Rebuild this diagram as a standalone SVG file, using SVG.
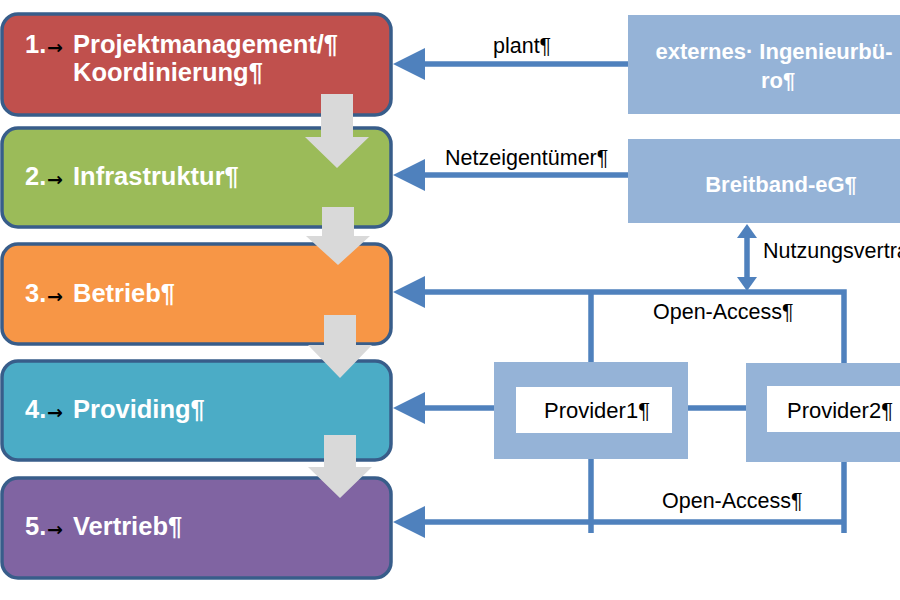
<svg xmlns="http://www.w3.org/2000/svg" width="900" height="600" viewBox="0 0 900 600">
<defs>
<style>
.step{stroke:#385d8a;stroke-width:3.5}
.lt{font-family:"Liberation Sans",Arial,sans-serif;font-weight:bold;font-size:25.5px;fill:#fff}
.tab{font-family:"DejaVu Sans",sans-serif;font-size:19px;fill:#000;font-weight:bold}
.rt{font-family:"Liberation Sans",Arial,sans-serif;font-weight:bold;font-size:22px;fill:#fff}
.lbl{font-family:"Liberation Sans",Arial,sans-serif;font-size:21.5px;fill:#000}
.pl{font-family:"Liberation Sans",Arial,sans-serif;font-size:22px;fill:#000}
.ln{stroke:#4f81bd;stroke-width:5.5;fill:none}
.hd{fill:#4f81bd}
.ext{fill:#95b3d7}
.gr{fill:#d9d9d9}
</style>
</defs>
<rect width="900" height="600" fill="#fff"/>
<g id="step1"><rect class="step" x="2" y="14" width="389" height="101" rx="16" fill="#c0504d"/>
<text class="lt" x="25" y="53">1.</text><text class="tab" x="47" y="54">→</text><text class="lt" x="73" y="53">Projektmanagement/¶</text><text class="lt" x="73" y="81">Koordinierung¶</text></g>
<g id="step2"><rect class="step" x="2" y="128" width="389" height="99" rx="16" fill="#9bbb59"/>
<text class="lt" x="25" y="185">2.</text><text class="tab" x="47" y="186">→</text><text class="lt" x="73" y="185">Infrastruktur¶</text></g>
<g id="step3"><rect class="step" x="2" y="244" width="389" height="100" rx="16" fill="#f79646"/>
<text class="lt" x="25" y="302">3.</text><text class="tab" x="47" y="303">→</text><text class="lt" x="73" y="302">Betrieb¶</text></g>
<g id="step4"><rect class="step" x="2" y="361" width="389" height="99" rx="16" fill="#4bacc6"/>
<text class="lt" x="25" y="418">4.</text><text class="tab" x="47" y="419">→</text><text class="lt" x="73" y="418">Providing¶</text></g>
<g id="step5"><rect class="step" x="2" y="478" width="389" height="100" rx="16" fill="#8064a2"/>
<text class="lt" x="25" y="535">5.</text><text class="tab" x="47" y="536">→</text><text class="lt" x="73" y="535">Vertrieb¶</text></g>
<g id="flow">
<path class="gr" d="M321,94 H353 V137 H369 L337,168 L305,137 H321 Z"/>
<path class="gr" d="M322,207 H354 V236 H370 L338,265 L306,236 H322 Z"/>
<path class="gr" d="M324,315 H356 V345 H372 L340,378 L308,345 H324 Z"/>
<path class="gr" d="M324,435 H356 V467 H372 L340,498 L308,467 H324 Z"/>
</g>
<g id="ingenieurbuero"><rect class="ext" x="628" y="15" width="294" height="99"/>
<text class="rt" x="774" y="59" text-anchor="middle">externes· Ingenieurbü-</text><text class="rt" x="778" y="88" text-anchor="middle">ro¶</text></g>
<g id="breitband"><rect class="ext" x="628" y="139" width="294" height="84"/>
<text class="rt" x="781" y="192" text-anchor="middle">Breitband-eG¶</text></g>
<g id="provider1"><rect class="ext" x="494" y="362" width="194" height="97"/><rect x="516" y="387" width="156" height="46" fill="#fff"/>
<text class="pl" x="544" y="418">Provider1¶</text></g>
<g id="provider2"><rect class="ext" x="746" y="363" width="194" height="99"/><rect x="767" y="386" width="156" height="46" fill="#fff"/>
<text class="pl" x="787" y="418">Provider2¶</text></g>
<g id="connectors">
<line class="ln" x1="628" y1="64" x2="420" y2="64"/><path class="hd" d="M393,64 L425,48 V80 Z"/>
<line class="ln" x1="628" y1="175" x2="420" y2="175"/><path class="hd" d="M393,175 L425,159 V191 Z"/>
<line class="ln" x1="747" y1="236" x2="747" y2="280"/><path class="hd" d="M747,224 L757,238 H737 Z"/><path class="hd" d="M747,291 L757,277 H737 Z"/>
<path class="ln" d="M420,292 H844 V363 M591,292 V362"/><path class="hd" d="M393,292 L425,276 V308 Z"/>
<line class="ln" x1="494" y1="408" x2="420" y2="408"/><path class="hd" d="M393,408 L425,392 V424 Z"/>
<line class="ln" x1="688" y1="408" x2="746" y2="408"/>
<path class="ln" d="M420,522 H844 M591,459 V533 M844,462 V533"/><path class="hd" d="M393,522 L425,506 V538 Z"/>
<text class="lbl" x="493" y="53">plant¶</text>
<text class="lbl" x="445" y="165">Netzeigentümer¶</text>
<text class="lbl" x="763" y="258">Nutzungsvertrag¶</text>
<text class="lbl" x="653" y="319">Open-Access¶</text>
<text class="lbl" x="662" y="508">Open-Access¶</text>
</g>
</svg>
